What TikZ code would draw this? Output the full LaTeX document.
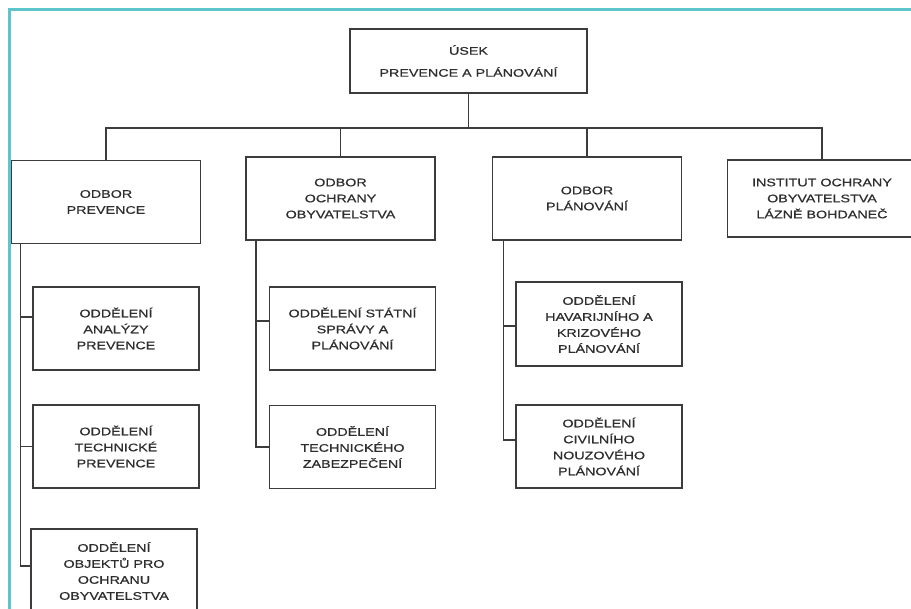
\documentclass[tikz,border=0pt]{standalone}
\usepackage{fontspec}
\usepackage{tikz}
\usetikzlibrary{positioning,calc}
\newfontfamily\orgfont[FakeStretch=1.3,FakeBold=0.6]{Liberation Sans}
\definecolor{ink}{HTML}{2E2E2E}
\definecolor{rule}{HTML}{3C3C3C}
\definecolor{frame}{HTML}{5CC6CC}

\begin{document}
\begin{tikzpicture}[x=1pt, y=-1pt,
  font=\orgfont\fontsize{11}{16}\selectfont,
  box/.style={draw=rule, line width=1.8pt, fill=white, align=center, inner sep=0pt, text=ink, minimum width=166pt, minimum height=83pt},
  head/.style={box, minimum width=189pt},
  link/.style={draw=rule, line width=1.6pt}]
\useasboundingbox (0,0) rectangle (911,609);
% frame
\draw[frame, line width=3pt] (9,609) -- (9,10) -- (911,10);
% top unit
\node[box, minimum width=237pt, minimum height=64pt] (usek) at (468.5,61) {ÚSEK\\[6pt] PREVENCE A PLÁNOVÁNÍ};
% departments, row 1
\node[head] (prev) at (106,202) {ODBOR\\ PREVENCE};
\node[head] (ochr) at (340.5,198.5) {ODBOR\\ OCHRANY\\ OBYVATELSTVA};
\node[head] (plan) at (587,198.5) {ODBOR\\ PLÁNOVÁNÍ};
\node[head, minimum height=77pt] (inst) at (822,198.5) {INSTITUT OCHRANY\\ OBYVATELSTVA\\ LÁZNĚ BOHDANEČ};
% sections under prevence
\node[box] (anal) at (116,328.5) {ODDĚLENÍ\\ ANALÝZY\\ PREVENCE};
\node[box] (tprev) at (116,446.5) {ODDĚLENÍ\\ TECHNICKÉ\\ PREVENCE};
\node[box, minimum height=84pt] (obj) at (114,571) {ODDĚLENÍ\\ OBJEKTŮ PRO\\ OCHRANU\\ OBYVATELSTVA};
% sections under ochrana
\node[box] (stat) at (352.5,328.5) {ODDĚLENÍ STÁTNÍ\\ SPRÁVY A\\ PLÁNOVÁNÍ};
\node[box] (tzab) at (352.5,447) {ODDĚLENÍ\\ TECHNICKÉHO\\ ZABEZPEČENÍ};
% sections under planovani
\node[box, minimum height=84pt] (hav) at (599,324) {ODDĚLENÍ\\ HAVARIJNÍHO A\\ KRIZOVÉHO\\ PLÁNOVÁNÍ};
\node[box] (civ) at (599,446.5) {ODDĚLENÍ\\ CIVILNÍHO\\ NOUZOVÉHO\\ PLÁNOVÁNÍ};
% bus from the top unit
\draw[link] (usek.south) -- ++(0,34) -| (prev.north);
\draw[link] (usek.south) -- ++(0,34) -| (ochr.north);
\draw[link] (usek.south) -- ++(0,34) -| (plan.north);
\draw[link] (usek.south) -- ++(0,34) -| (inst.north);
% side trunks
\draw[link] ([xshift=10pt]prev.south west) |- ([yshift=11.5pt]anal.west);
\draw[link] ([xshift=10pt]prev.south west) |- (tprev.west);
\draw[link] ([xshift=10pt]prev.south west) |- ([yshift=5pt]obj.west);
\draw[link] ([xshift=11pt]ochr.south west) |- ([yshift=7.5pt]stat.west);
\draw[link] ([xshift=11pt]ochr.south west) |- (tzab.west);
\draw[link] ([xshift=12pt]plan.south west) |- ([yshift=-2pt]hav.west);
\draw[link] ([xshift=12pt]plan.south west) |- ([yshift=6.5pt]civ.west);
\end{tikzpicture}
\end{document}
